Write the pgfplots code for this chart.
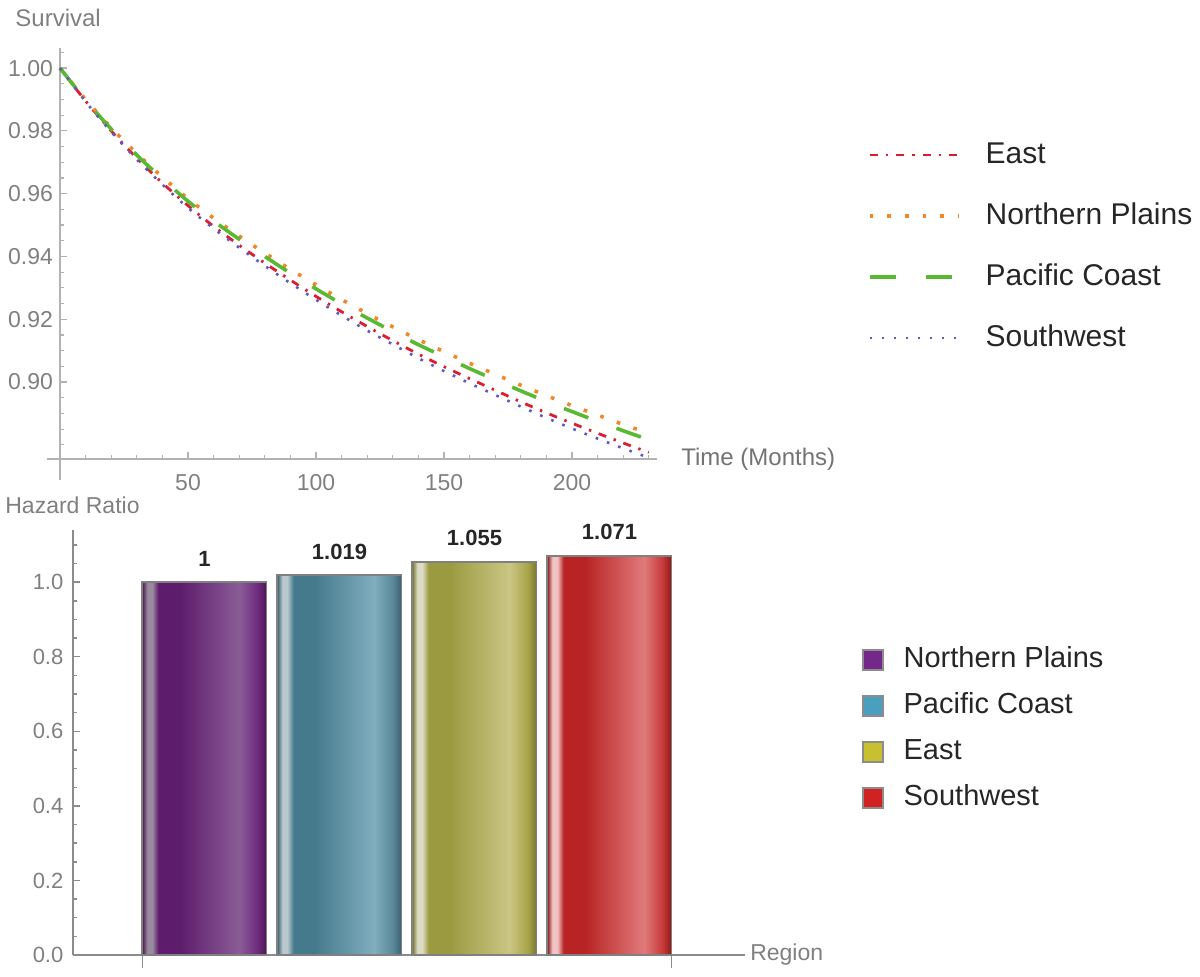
\documentclass[border=0pt]{standalone}
\usepackage{fontspec}
\setmainfont{Liberation Sans}
\usepackage{pgfplots}
\usepackage{pgfplotstable}
\pgfplotsset{compat=1.18}

\definecolor{eastc}{RGB}{220,30,50}
\definecolor{npc}{RGB}{240,135,40}
\definecolor{pcc}{RGB}{90,185,50}
\definecolor{swc}{RGB}{95,90,190}

\definecolor{npE}{HTML}{4A1850}\definecolor{npH}{HTML}{9A8AA0}\definecolor{npB}{HTML}{5E1C6C}\definecolor{npL}{HTML}{8A5C96}\definecolor{npD}{HTML}{6E2A7C}
\definecolor{pcE}{HTML}{3A6070}\definecolor{pcH}{HTML}{B8C8CC}\definecolor{pcB}{HTML}{457A8C}\definecolor{pcL}{HTML}{80AEBE}\definecolor{pcD}{HTML}{5A8898}
\definecolor{eaE}{HTML}{7A7630}\definecolor{eaH}{HTML}{DCDCC4}\definecolor{eaB}{HTML}{9C9A40}\definecolor{eaL}{HTML}{CAC684}\definecolor{eaD}{HTML}{A8A448}
\definecolor{swE}{HTML}{8A1818}\definecolor{swH}{HTML}{F0C4C4}\definecolor{swB}{HTML}{B82424}\definecolor{swL}{HTML}{E07A7A}\definecolor{swD}{HTML}{C83838}

\definecolor{npleg}{HTML}{74288A}
\definecolor{pcleg}{HTML}{4A9EBE}
\definecolor{ealeg}{HTML}{C8C030}
\definecolor{swleg}{HTML}{D02222}

\pgfdeclarehorizontalshading{npshade}{100bp}{color(0bp)=(npE); color(25bp)=(npE); color(27bp)=(npH); color(29bp)=(npH); color(31.5bp)=(npB); color(40bp)=(npB); color(64bp)=(npL); color(71.5bp)=(npD); color(75bp)=(npE); color(100bp)=(npE)}
\pgfdeclarehorizontalshading{pcshade}{100bp}{color(0bp)=(pcE); color(25bp)=(pcE); color(27bp)=(pcH); color(29bp)=(pcH); color(31.5bp)=(pcB); color(40bp)=(pcB); color(64bp)=(pcL); color(71.5bp)=(pcD); color(75bp)=(pcE); color(100bp)=(pcE)}
\pgfdeclarehorizontalshading{eashade}{100bp}{color(0bp)=(eaE); color(25bp)=(eaE); color(27bp)=(eaH); color(29bp)=(eaH); color(31.5bp)=(eaB); color(40bp)=(eaB); color(64bp)=(eaL); color(71.5bp)=(eaD); color(75bp)=(eaE); color(100bp)=(eaE)}
\pgfdeclarehorizontalshading{swshade}{100bp}{color(0bp)=(swE); color(25bp)=(swE); color(27bp)=(swH); color(29bp)=(swH); color(31.5bp)=(swB); color(40bp)=(swB); color(64bp)=(swL); color(71.5bp)=(swD); color(75bp)=(swE); color(100bp)=(swE)}

\pgfplotstableread{
t np pc east sw
0 1.0000 1.0000 1.0000 1.0000
10 0.9900 0.9898 0.9895 0.9893
20 0.9810 0.9806 0.9800 0.9797
30 0.9728 0.9723 0.9713 0.9709
40 0.9653 0.9647 0.9634 0.9629
50 0.9584 0.9576 0.9562 0.9555
60 0.9522 0.9513 0.9496 0.9489
70 0.9465 0.9455 0.9436 0.9428
80 0.9411 0.9400 0.9379 0.9370
90 0.9359 0.9347 0.9325 0.9315
100 0.9310 0.9297 0.9273 0.9262
110 0.9263 0.9249 0.9224 0.9212
120 0.9218 0.9204 0.9177 0.9164
130 0.9176 0.9161 0.9132 0.9120
140 0.9135 0.9119 0.9089 0.9076
150 0.9097 0.9081 0.9049 0.9035
160 0.9060 0.9043 0.9011 0.8996
170 0.9025 0.9007 0.8974 0.8959
180 0.8990 0.8972 0.8937 0.8922
190 0.8957 0.8938 0.8902 0.8886
200 0.8925 0.8906 0.8869 0.8852
210 0.8895 0.8875 0.8837 0.8820
220 0.8865 0.8845 0.8806 0.8789
230 0.8837 0.8816 0.8776 0.8759
}\survdata

\begin{document}
\begin{tikzpicture}
\path[use as bounding box] (0pt,0pt) rectangle (600pt,488pt);

% ---------------- top panel: survival curves ----------------
\begin{axis}[
  scale only axis, width=298.25pt, height=205.5pt,
  at={(30pt,258.5pt)}, anchor=south west,
  xmin=0, xmax=233, ymin=0.8755, ymax=1.0064,
  clip=false,
  axis lines*=left,
  axis line style={-, draw=black!30, line width=0.8pt},
  x axis line style={shorten <=-6.5pt},
  y axis line style={shorten <=-10.5pt},
  tick align=inside,
  tick style={draw=black!30, line width=0.6pt},
  major tick length=3.5pt, minor tick length=2pt,
  xtick={50,100,150,200},
  minor xtick={10,20,30,40,60,70,80,90,110,120,130,140,160,170,180,190,210,220,230},
  ytick={0.90,0.92,0.94,0.96,0.98,1.00},
  minor ytick={0.88,0.885,0.89,0.895,0.905,0.91,0.915,0.925,0.93,0.935,0.945,0.95,0.955,0.965,0.97,0.975,0.985,0.99,0.995,1.005},
  /pgf/number format/assume math mode=true,
  yticklabel style={/pgf/number format/fixed, /pgf/number format/fixed zerofill, /pgf/number format/precision=2},
  ticklabel style={font=\fontsize{11.5}{13}\selectfont, text=black!50},
  xticklabel style={yshift=-4pt},
  xlabel={Time (Months)}, ylabel={Survival},
  every axis y label/.style={at={(axis description cs:-0.0754,1.073)}, anchor=west, inner sep=0pt, font=\fontsize{12}{14}\selectfont, text=black!50},
  every axis x label/.style={at={(axis description cs:1.041,0)}, anchor=west, inner sep=0pt, font=\fontsize{12}{14}\selectfont, text=black!55},
  legend cell align=left,
  legend image code/.code={\draw[#1] (0pt,0pt) -- (44.5pt,0pt);},
  legend style={at={(axis description cs:1.3546,0.7737)}, anchor=north west,
    draw=none, fill=none, inner sep=0pt, outer sep=0pt, row sep=16.5pt,
    font=\fontsize{15}{18}\selectfont, text=black!85,
    nodes={inner sep=0pt, text height=11pt, text depth=3pt},
    /tikz/every odd column/.append style={column sep=12.5pt}},
]
\addplot[eastc, line width=1.4pt, smooth, dash pattern=on 4pt off 4pt on 1.2pt off 4pt] table[x=t, y=east] {\survdata};
\addlegendentry{East}
\addplot[npc, line width=1.8pt, smooth, dash pattern=on 1.8pt off 7pt] table[x=t, y=np] {\survdata};
\addlegendentry{Northern Plains}
\addplot[pcc, line width=1.8pt, smooth, dash pattern=on 13pt off 15pt] table[x=t, y=pc] {\survdata};
\addlegendentry{Pacific Coast}
\addplot[swc, line width=1.3pt, smooth, dash pattern=on 1.3pt off 4.7pt] table[x=t, y=sw] {\survdata};
\addlegendentry{Southwest}
\end{axis}

% ---------------- bottom panel: hazard ratios ----------------
\begin{axis}[
  scale only axis, width=335.75pt, height=212.5pt,
  at={(36.5pt,10.5pt)}, anchor=south west,
  xmin=0.026, xmax=5.0, ymin=0, ymax=1.14,
  clip=false,
  axis lines*=left,
  axis line style={-, draw=black!45, line width=0.9pt},
  tick align=inside,
  tick style={draw=black!45, line width=0.7pt},
  major tick length=3.5pt, minor tick length=2pt,
  xtick=\empty,
  extra x ticks={0.54,4.46}, extra x tick labels={},
  extra x tick style={tick align=outside, major tick length=6.5pt},
  ytick={0,0.2,0.4,0.6,0.8,1.0},
  minor ytick={0.05,0.1,0.15,0.25,0.3,0.35,0.45,0.5,0.55,0.65,0.7,0.75,0.85,0.9,0.95,1.05,1.1},
  /pgf/number format/assume math mode=true,
  yticklabel style={/pgf/number format/fixed, /pgf/number format/fixed zerofill, /pgf/number format/precision=1, xshift=-1.3pt},
  ticklabel style={font=\fontsize{11}{13}\selectfont, text=black!50},
  xlabel={Region}, ylabel={Hazard Ratio},
  every axis y label/.style={at={(axis description cs:-0.1013,1.0588)}, anchor=west, inner sep=0pt, font=\fontsize{11.5}{13}\selectfont, text=black!50},
  every axis x label/.style={at={(axis description cs:1.008,0)}, anchor=west, inner sep=0pt, font=\fontsize{11.5}{13}\selectfont, text=black!50},
  legend cell align=left,
  legend image code/.code={\draw[#1] (0pt,-5pt) rectangle (10pt,5pt);},
  legend style={at={(axis description cs:1.175,0.7247)}, anchor=north west,
    draw=none, fill=none, inner sep=0pt, outer sep=0pt, row sep=10pt,
    font=\fontsize{14.5}{17}\selectfont, text=black!85,
    nodes={inner sep=0pt, text height=10pt, text depth=3pt},
    /tikz/every odd column/.append style={column sep=10pt}},
  barlab/.style={every node near coord/.append style={font=\bfseries\fontsize{11}{13}\selectfont, text=black!85, yshift=4pt}},
]
\addplot[forget plot, ybar, bar width=0.92, bar shift=0pt, shading=npshade, draw=black!50, line width=0.9pt,
  nodes near coords={1}, barlab] coordinates {(1,1)};
\addplot[forget plot, ybar, bar width=0.92, bar shift=0pt, shading=pcshade, draw=black!50, line width=0.9pt,
  nodes near coords={1.019}, barlab] coordinates {(2,1.019)};
\addplot[forget plot, ybar, bar width=0.92, bar shift=0pt, shading=eashade, draw=black!50, line width=0.9pt,
  nodes near coords={1.055}, barlab] coordinates {(3,1.055)};
\addplot[forget plot, ybar, bar width=0.92, bar shift=0pt, shading=swshade, draw=black!50, line width=0.9pt,
  nodes near coords={1.071}, barlab] coordinates {(4,1.071)};
\addlegendimage{fill=npleg, draw=black!45, line width=0.8pt}
\addlegendentry{Northern Plains}
\addlegendimage{fill=pcleg, draw=black!45, line width=0.8pt}
\addlegendentry{Pacific Coast}
\addlegendimage{fill=ealeg, draw=black!45, line width=0.8pt}
\addlegendentry{East}
\addlegendimage{fill=swleg, draw=black!45, line width=0.8pt}
\addlegendentry{Southwest}
\end{axis}
\end{tikzpicture}
\end{document}
